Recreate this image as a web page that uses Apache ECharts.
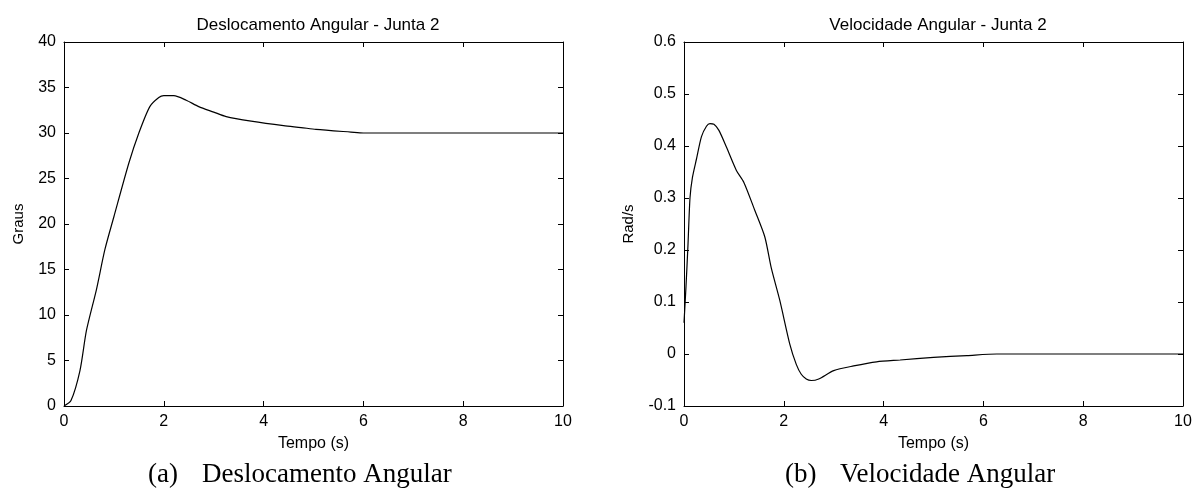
<!DOCTYPE html>
<html>
<head>
<meta charset="utf-8">
<script src="https://cdn.jsdelivr.net/npm/echarts@6/dist/echarts.min.js"></script>
<style>
  html, body { margin: 0; padding: 0; background: #fff; }
  #chart { width: 1203px; height: 489px; }
</style>
</head>
<body>
<div id="chart"></div>
<script>
// (a) deslocamento angular, graus
var tempoA = [0, 0.14, 0.32, 0.45, 0.65, 0.82, 1.0, 1.3, 1.5, 1.72, 1.9, 2.0, 2.2, 2.45, 2.7, 3.0, 3.25, 3.75, 4.4, 4.75, 5.05, 5.75, 6, 8, 10];
var grausA = [0, 0.6, 3.9, 8.3, 12.8, 17.2, 20.8, 26.7, 30.0, 32.9, 33.9, 34.1, 34.1, 33.6, 32.9, 32.3, 31.8, 31.3, 30.8, 30.6, 30.4, 30.1, 30, 30, 30];

// (b) velocidade angular, rad/s
var tempoB = [0, 0.04, 0.08, 0.12, 0.17, 0.25, 0.35, 0.45, 0.52, 0.6, 0.7, 0.85, 1.05, 1.2, 1.42, 1.62, 1.75, 1.92, 2.12, 2.25, 2.35, 2.45, 2.55, 2.7, 3.0, 3.4, 3.86, 4.33, 5.0, 5.67, 6.27, 8, 10];
var radB = [0.06, 0.13, 0.21, 0.30, 0.34, 0.375, 0.418, 0.438, 0.443, 0.442, 0.43, 0.398, 0.353, 0.33, 0.276, 0.225, 0.165, 0.103, 0.019, -0.02, -0.039, -0.048, -0.051, -0.048, -0.032, -0.023, -0.015, -0.0115, -0.0065, -0.003, 0, 0, 0];

function pares(xs, ys) {
    var out = [];
    for (var i = 0; i < xs.length; i++) out.push([xs[i], ys[i]]);
    return out;
}

var fonte = 'Liberation Sans, Arial, sans-serif';
var serif = '27px "Liberation Serif", "Times New Roman", serif';
var linha = { show: true, onZero: false, lineStyle: { color: '#000', width: 1 } };
var marca = { show: true, inside: true, length: 5, lineStyle: { color: '#000', width: 1 } };
var rotulo = { color: '#000', fontSize: 16, fontFamily: fonte };

function eixoX(grid, nome) {
    return [{
        type: 'value', gridIndex: grid, min: 0, max: 10, interval: 2, position: 'bottom',
        axisLine: linha, axisTick: marca, splitLine: { show: false },
        axisLabel: Object.assign({ margin: 8 }, rotulo),
        name: nome, nameLocation: 'middle', nameGap: 30,
        nameTextStyle: { color: '#000', fontSize: 16, fontFamily: fonte }
    }, {
        type: 'value', gridIndex: grid, min: 0, max: 10, interval: 2, position: 'top',
        axisLine: linha, axisTick: marca, splitLine: { show: false }, axisLabel: { show: false }
    }];
}
function eixoY(grid, min, max, step, nome, fmt, gap) {
    return [{
        type: 'value', gridIndex: grid, min: min, max: max, interval: step, position: 'left',
        axisLine: linha, axisTick: marca, splitLine: { show: false },
        axisLabel: Object.assign({ margin: 8, formatter: fmt }, rotulo),
        name: nome, nameLocation: 'middle', nameGap: gap,
        nameTextStyle: { color: '#000', fontSize: 15, fontFamily: fonte }
    }, {
        type: 'value', gridIndex: grid, min: min, max: max, interval: step, position: 'right',
        axisLine: linha, axisTick: marca, splitLine: { show: false }, axisLabel: { show: false }
    }];
}

var chart = echarts.init(document.getElementById('chart'), null, { renderer: 'canvas' });
chart.setOption({
    backgroundColor: '#fff',
    animation: false,
    title: [{
        text: 'Deslocamento Angular - Junta 2', left: 313, top: 12, textAlign: 'center',
        textStyle: { color: '#000', fontSize: 17, fontWeight: 'normal', fontFamily: fonte }
    }, {
        text: 'Velocidade Angular - Junta 2', left: 933, top: 12, textAlign: 'center',
        textStyle: { color: '#000', fontSize: 17, fontWeight: 'normal', fontFamily: fonte }
    }],
    grid: [
        { left: 64, right: 640, top: 42, bottom: 83 },
        { left: 684, right: 20, top: 42, bottom: 83 }
    ],
    xAxis: eixoX(0, 'Tempo (s)').concat(eixoX(1, 'Tempo (s)')),
    yAxis: eixoY(0, 0, 40, 5, 'Graus', null, 38).concat(
        eixoY(1, -0.1, 0.6, 0.1, 'Rad/s', function (v) {
            return (Math.round(v * 10) / 10).toString();
        }, 48)),
    series: [{
        type: 'line', xAxisIndex: 0, yAxisIndex: 0, data: pares(tempoA, grausA),
        showSymbol: false, smooth: 0.25, lineStyle: { color: '#000', width: 1.2 }
    }, {
        type: 'line', xAxisIndex: 2, yAxisIndex: 2, data: pares(tempoB, radB),
        showSymbol: false, smooth: 0.25, lineStyle: { color: '#000', width: 1.2 }
    }],
    graphic: [
        { type: 'text', left: 148, top: 461, style: { text: '(a)', fill: '#000', font: serif } },
        { type: 'text', left: 202, top: 461, style: { text: 'Deslocamento Angular', fill: '#000', font: serif } },
        { type: 'text', left: 785, top: 461, style: { text: '(b)', fill: '#000', font: serif } },
        { type: 'text', left: 840, top: 461, style: { text: 'Velocidade Angular', fill: '#000', font: serif } }
    ]
});
</script>
</body>
</html>
